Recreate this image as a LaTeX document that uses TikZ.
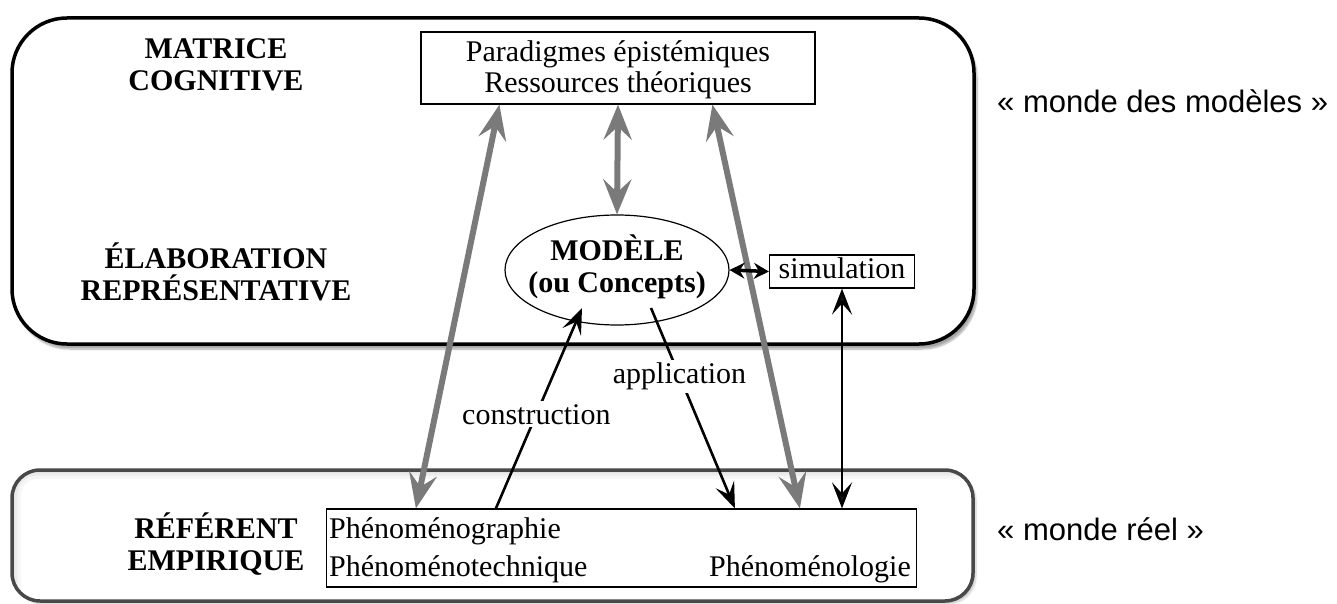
\documentclass[tikz,border=0pt]{standalone}
\usepackage{fontspec}
\setmainfont{Liberation Serif}
\newfontfamily\worldfont{Liberation Sans}
\usetikzlibrary{arrows.meta,shapes.geometric,shadows.blur,calc}
\definecolor{arrowgrey}{HTML}{7A7A7A}
\definecolor{framegrey}{HTML}{484848}
\tikzset{
  greytip/.tip={Stealth[length=35pt,width=28pt,inset=13pt]},
  blacktip/.tip={Stealth[length=26pt,width=20pt,inset=11pt]},
  linktip/.tip={Stealth[length=15pt,width=16pt,inset=5pt]}
}
\begin{document}
\begin{tikzpicture}[x=1pt,y=-1pt,
  world/.style={rounded corners=55pt, fill=white, line width=3.5pt,
    blur shadow={shadow xshift=3pt, shadow yshift=-5pt, shadow blur steps=8, shadow opacity=35}},
  txt/.style={font=\fontsize{30}{32}\selectfont, inner sep=0pt},
  hdr/.style={font=\fontsize{30}{32}\selectfont\bfseries, inner sep=0pt, anchor=base},
  side/.style={font=\worldfont\fontsize{31}{33}\selectfont, inner sep=0pt, anchor=base west},
  thinbox/.style={draw, line width=1.2pt, inner sep=0pt},
  greyarrow/.style={draw=arrowgrey, line width=6pt, greytip-greytip},
  blackarrow/.style={draw=black, line width=2.6pt, -blacktip},
  lab/.style={txt, fill=white, inner sep=3pt}
]
\useasboundingbox (0,0) rectangle (1337,604);

% the world of models
\draw[world] (12,18) rectangle (974,344);

% the real world, with a soft inner shadow along its upper and left sides
\fill[white, blur shadow={shadow xshift=3pt, shadow yshift=-3pt, shadow blur steps=6, shadow opacity=20}, rounded corners=28pt] (12,470) rectangle (973,601);
\begin{scope}
  \clip[rounded corners=28pt] (12,470) rectangle (973,601);
  \foreach \w/\o in {24/0.035, 17/0.045, 11/0.055, 7/0.065} {
    \draw[black, opacity=\o, line width=\w pt, rounded corners=28pt] (9,467) rectangle (1010,640);
  }
\end{scope}
\draw[draw=framegrey, line width=3.5pt, rounded corners=28pt] (12,470) rectangle (973,601);

% headings
\node[hdr] (h1) at (216,59) {MATRICE};
\node[hdr] (h2) at (216,91) {COGNITIVE};
\node[hdr] (h3) at (216,268) {ÉLABORATION};
\node[hdr] (h4) at (216,300) {REPRÉSENTATIVE};
\node[hdr] (h5) at (216,538) {RÉFÉRENT};
\node[hdr] (h6) at (216,570) {EMPIRIQUE};

% side captions
\node[side] (w1) at (997,113) {« monde des modèles »};
\node[side] (w2) at (997,540) {« monde réel »};

% boxes
\node[thinbox, minimum width=394pt, minimum height=72pt] (par) at (618,68) {};
\node[txt, anchor=base] (par1) at (618,62) {Paradigmes épistémiques};
\node[txt, anchor=base] (par2) at (618,93) {Ressources théoriques};

\node[draw, ellipse, line width=1.2pt, minimum width=224pt, minimum height=110pt, inner sep=0pt] (mod) at (617,270) {};
\node[hdr] (mod1) at (617,260) {MODÈLE};
\node[hdr] (mod2) at (617,292) {(ou Concepts)};

\node[thinbox, minimum width=145pt, minimum height=33pt] (sim) at (842,271.5) {};
\node[txt, anchor=base] (simt) at (842,278) {simulation};

\node[thinbox, minimum width=590pt, minimum height=78pt] (phen) at (621.5,548) {};
\node[txt, anchor=base west] (pg) at (329,538) {Phénoménographie};
\node[txt, anchor=base west] (pt) at (329,576) {Phénoménotechnique};
\node[txt, anchor=base east] (pl) at (911,576) {Phénoménologie};

% attachment points on the boxes
\coordinate (parL) at ($(par.south west)+(79,0)$);
\coordinate (parR) at ($(par.south west)+(292,0)$);
\coordinate (phL) at ($(phen.north west)+(90,0)$);
\coordinate (phR) at ($(phen.north west)+(474,0)$);
\coordinate (phC) at ($(phen.north west)+(170,0)$);
\coordinate (phA) at ($(phen.north west)+(409,0)$);
\coordinate (modIn) at ($(mod.center)+(-35,38)$);
\coordinate (modOut) at ($(mod.center)+(34,38)$);

% grey links to the theoretical resources
\path[greyarrow] (phL) -- (parL);
\path[greyarrow] (phR) -- (parR);
\path[greyarrow] (par.south) -- (mod.north);

% black links
\draw[line width=3.5pt, linktip-linktip] (mod.east) -- (sim.west);
\draw[line width=2.6pt, blacktip-blacktip] (sim.south) -- (sim.south |- phen.north);
\draw[blackarrow] (phC) -- (modIn) node[lab, pos=0.47] (lc) {construction};
\draw[blackarrow] (modOut) -- (phA) node[lab, pos=0.34] (la) {application};
\end{tikzpicture}
\end{document}
